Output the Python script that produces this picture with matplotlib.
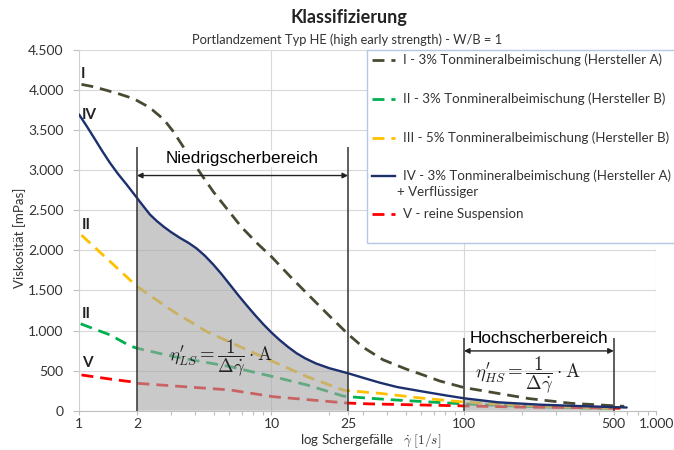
import numpy as np
import matplotlib.pyplot as plt
from matplotlib.patches import Rectangle
from matplotlib.lines import Line2D
from matplotlib.ticker import LogLocator, NullFormatter

plt.rcParams['font.family'] = ['Lato', 'DejaVu Sans']
plt.rcParams['mathtext.fontset'] = 'cm'

# Messkurven, Schergefaelle [1/s] / Viskositaet [mPas]
x_I = [1.03, 1.2, 1.4, 1.6, 1.8, 2.0, 2.2, 2.4, 2.63, 2.85, 3.08, 3.4, 3.8, 4.3, 5.0, 6, 7, 8.5, 10, 12.5, 15, 20,
       25, 30, 38, 50, 61, 75, 100, 152, 218, 362, 588, 680]
y_I = [4071, 4040, 3995, 3955, 3915, 3870, 3815, 3755, 3675, 3590, 3487, 3330, 3150, 2954, 2728, 2490, 2288, 2080,
       1921, 1675, 1483, 1182, 955, 790, 635, 520, 448, 370, 289, 214, 151, 92, 63, 55]

x_II = [1.02, 1.45, 1.84, 2, 3.09, 6.09, 10.2, 15.3, 23.5, 25, 40, 60, 100, 200, 400, 600]
y_II = [1084, 946, 809, 780, 675, 550, 425, 321, 184, 175, 140, 115, 85, 55, 35, 28]

x_III = [1.03, 1.45, 2, 3.09, 4.6, 6.85, 10.2, 15.3, 23.5, 25, 36.5, 61.5, 95, 150, 300, 600]
y_III = [2190, 1862, 1550, 1238, 988, 800, 613, 425, 259, 250, 217, 155, 113, 80, 50, 30]

x_IV = [1, 1.1, 1.2, 1.32, 1.45, 1.6, 1.77, 2, 2.17, 2.34, 2.54, 2.74, 3.0, 3.35, 3.7, 4.08, 4.5, 4.98, 5.5,
        6.09, 6.7, 7.43, 8.2, 9.06, 10, 11.05, 12.2, 13.5, 15, 17, 20, 25,
        30, 36.5, 45, 61.5, 80, 100, 150, 250, 400, 600, 700]
y_IV = [3696, 3545, 3400, 3240, 3090, 2950, 2820, 2655, 2545, 2446, 2365, 2300, 2230, 2155, 2095, 2025, 1935, 1825, 1705,
        1571, 1445, 1315, 1195, 1080, 975, 880, 795, 717, 652, 590, 530, 467,
        410, 350, 295, 238, 192, 155, 105, 75, 58, 45, 40]

x_V = [1.03, 1.45, 1.84, 2, 6.09, 10.2, 23.5, 25, 32.5, 59, 100, 200, 400, 650]
y_V = [446, 395, 363, 342, 259, 175, 100, 95, 85, 72, 60, 45, 38, 30]

labels = ['I - 3% Tonmineralbeimischung (Hersteller A)',
          'II - 3% Tonmineralbeimischung (Hersteller B)',
          'III - 5% Tonmineralbeimischung (Hersteller B)',
          'IV - 3% Tonmineralbeimischung (Hersteller A)',
          'V - reine Suspension']

ls_bounds = [2, 25]      # Niedrigscherbereich
hs_bounds = [100, 600]   # Hochscherbereich
xtick_pos = [1, 2, 10, 25, 100, 600, 1000]
xtick_lab = ['1', '2', '10', '25', '100', '500', '1.000']
ytick_pos = np.arange(0, 4501, 500)
ytick_lab = ['0', '500', '1.000', '1.500', '2.000', '2.500', '3.000', '3.500', '4.000', '4.500']

colors = ['#4a4a33', '#00b050', '#ffc000', '#1c2f6e', '#ff0000']
dash = (0, (4.3, 2.5))

fig = plt.figure(figsize=(6.74, 4.5), dpi=100)
ax = fig.add_axes([0.1172, 0.0873, 0.8568, 0.8016])

series = [(x_I, y_I), (x_II, y_II), (x_III, y_III), (x_IV, y_IV), (x_V, y_V)]
for i, (xs, ys) in enumerate(series):
    if i == 3:
        ax.plot(xs, ys, color=colors[i], lw=1.7, zorder=4, solid_capstyle='round', solid_joinstyle='round')
    else:
        ax.plot(xs, ys, color=colors[i], lw=2.0, ls=dash, zorder=2, dash_capstyle='butt')

# graue Flaechen unter Kurve IV
xiv = np.array(x_IV)
mask = ((xiv >= ls_bounds[0]) & (xiv <= ls_bounds[1])) | ((xiv >= hs_bounds[0]) & (xiv <= hs_bounds[1]))
ax.fill_between(x_IV, y_IV, where=mask, color='#a6a6a6', alpha=0.6, lw=0, zorder=3)

ax.set_xscale('log')
ax.set_xlim(1, 1000)
ax.set_ylim(0, 4500)

# Bereichsmarkierungen
ax.vlines(ls_bounds, 0, 3284, color='#333333', lw=1.1, zorder=5)
ax.vlines(hs_bounds, 0, 909, color='#333333', lw=1.1, zorder=5)
arrow = dict(arrowstyle='<|-|>', color='#222222', lw=1.0, mutation_scale=8, shrinkA=0, shrinkB=0)
ax.annotate('', xy=(ls_bounds[1], 2934), xytext=(ls_bounds[0], 2934), arrowprops=arrow, zorder=5)
ax.annotate('', xy=(hs_bounds[1], 746), xytext=(hs_bounds[0], 746), arrowprops=arrow, zorder=5)
ax.text(7.07, 3150, 'Niedrigscherbereich', family='Liberation Sans', fontsize=12.3,
        ha='center', va='center', zorder=6,
        bbox=dict(boxstyle='square,pad=0.05', fc='white', ec='none'))
ax.text(245, 905, 'Hochscherbereich', family='Liberation Sans', fontsize=12.3,
        ha='center', va='center', zorder=6)
ax.text(5.47, 650, r"$\eta^{\prime}_{LS} = \dfrac{1}{\Delta\dot{\gamma}} \cdot \mathrm{A}$",
        fontsize=13.5, ha='center', va='center', color='#222222', zorder=6)
ax.text(215, 440, r"$\eta^{\prime}_{HS} = \dfrac{1}{\Delta\dot{\gamma}} \cdot \mathrm{A}$",
        fontsize=13.5, ha='center', va='center', color='#222222', zorder=6)

# Kurvenbeschriftung
for txt, xx, yy in [('I', 1.02, 4196), ('IV', 1.03, 3684), ('II', 1.03, 2320), ('II', 1.03, 1209), ('V', 1.04, 596)]:
    ax.text(xx, yy, txt, fontsize=11, fontweight='bold', ha='left', va='center', color='#222222', zorder=6)

# Achsen
ax.set_xticks(xtick_pos)
ax.set_xticklabels(xtick_lab)
ax.xaxis.set_minor_locator(LogLocator(base=10, subs=np.arange(2, 10)))
ax.xaxis.set_minor_formatter(NullFormatter())
ax.set_yticks(ytick_pos)
ax.set_yticklabels(ytick_lab)
ax.tick_params(axis='both', which='major', labelsize=10, colors='#bfbfbf', labelcolor='#333333',
               length=4, width=0.8, pad=7)
ax.tick_params(axis='x', which='major', length=3, pad=2)
ax.tick_params(axis='x', which='minor', colors='#bfbfbf', length=3, width=0.8)
ax.grid(axis='y', color='#d9d9d9', lw=0.8)
for xv in [10, 100, 1000]:
    ax.axvline(xv, color='#d9d9d9', lw=0.8, zorder=0.5)
ax.set_axisbelow(True)
for s in ['top', 'right']:
    ax.spines[s].set_visible(False)
ax.spines['left'].set_color('#d0d0d0')
ax.spines['bottom'].set_color('#bfbfbf')

ax.set_ylabel('Viskosität [mPas]', fontsize=9.5, color='#333333')
ax.yaxis.set_label_coords(-0.092, 0.48)
ax.set_xlabel(r'log Schergefälle   $\dot{\gamma}\ [1/s]$', fontsize=9.6, color='#333333')
ax.xaxis.set_label_coords(0.505, -0.058)

fig.text(0.518, 0.96, 'Klassifizierung', fontsize=13, fontweight='bold', ha='center', va='center', color='#222222')
fig.text(0.515, 0.911, 'Portlandzement Typ HE (high early strength) - W/B = 1', fontsize=9.3,
         ha='center', va='center', color='#333333')

# Legende
ax.add_patch(Rectangle((0.4987, 0.4649), 0.8, 0.5351, transform=ax.transAxes, fc='white',
                       ec='#b4c7e7', lw=1.0, clip_on=False, zorder=8))
rows = [0.9723, 0.8642, 0.7561, 0.6507, 0.5453]
for i, yr in enumerate(rows):
    if i == 3:
        ln = Line2D([0.5074, 0.5472], [yr, yr], transform=ax.transAxes, color=colors[i], lw=1.7,
                    clip_on=False, zorder=9)
    else:
        ln = Line2D([0.5074, 0.5472], [yr, yr], transform=ax.transAxes, color=colors[i], lw=2.0,
                    ls=dash, clip_on=False, zorder=9)
    ax.add_line(ln)
    ax.text(0.561, yr, labels[i], transform=ax.transAxes, fontsize=9.6, ha='left', va='center',
            color='#333333', zorder=10, clip_on=False)
ax.text(0.5507, 0.6063, '+ Verflüssiger', transform=ax.transAxes, fontsize=9.6, ha='left', va='center',
        color='#333333', zorder=10)

fig.savefig('out.png', dpi=100)
